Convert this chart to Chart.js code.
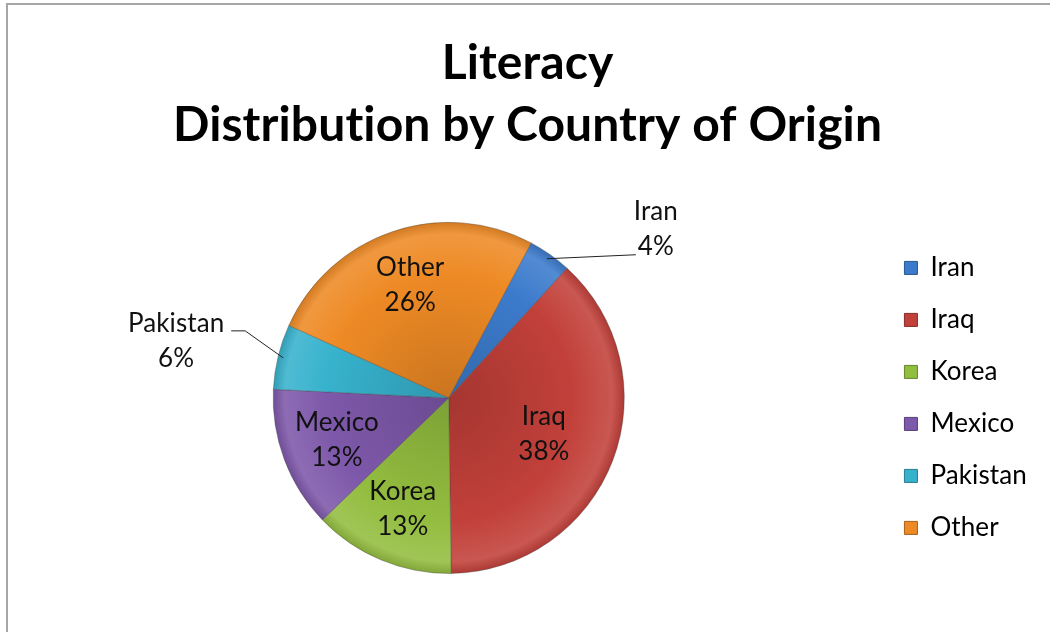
<!DOCTYPE html>
<html>
<head>
<meta charset="utf-8">
<script src="https://cdn.jsdelivr.net/npm/chart.js@4"></script>
<style>
  body { margin: 0; background: #fff; }
  #wrap { position: relative; width: 1050px; height: 632px; overflow: hidden; }
  #frame { position: absolute; left: 6px; top: 3px; width: 1100px; height: 700px;
           border-left: 2px solid #a6a6a6; border-top: 2px solid #a6a6a6; }
  canvas { position: absolute; left: 0; top: 0; }
</style>
</head>
<body>
<div id="wrap">
  <div id="frame"></div>
  <canvas id="pieChart" width="1050" height="632"></canvas>
</div>
<script>
// chart data
const countries = ['Iran', 'Iraq', 'Korea', 'Mexico', 'Pakistan', 'Other'];
const shares = [4, 38, 13, 13, 6, 26];
const sliceColors = ['#3c7bcc', '#c2403a', '#93bd3f', '#7e58aa', '#37b2cd', '#ee8a25'];
const titleLines = ['Literacy', 'Distribution by Country of Origin'];

const FONT = 'Lato, "Open Sans", sans-serif';

function shade(hex, amt) {
  const n = parseInt(hex.slice(1), 16);
  let r = (n >> 16) & 255, g = (n >> 8) & 255, b = n & 255;
  const f = c => Math.max(0, Math.min(255, Math.round(amt < 0 ? c * (1 + amt) : c + (255 - c) * amt)));
  return 'rgb(' + f(r) + ',' + f(g) + ',' + f(b) + ')';
}

// bevel-ish look for each slice
function sliceFill(ctx) {
  const base = sliceColors[ctx.dataIndex];
  const area = ctx.chart.chartArea;
  if (!area) return base;
  const cx = (area.left + area.right) / 2, cy = (area.top + area.bottom) / 2;
  const r = Math.min(area.right - area.left, area.bottom - area.top) / 2;
  const g = ctx.chart.ctx.createRadialGradient(cx, cy, 0, cx, cy, r);
  g.addColorStop(0, shade(base, -0.15));
  g.addColorStop(0.7, base);
  g.addColorStop(0.93, shade(base, 0.12));
  g.addColorStop(1, shade(base, -0.12));
  return g;
}

// a tiny letter spacing stops Lato from drawing the "ti" ligature
const noLigatures = {
  id: 'noLigatures',
  beforeDraw(chart) {
    chart.ctx.letterSpacing = '0.1px';
  }
};

// labels inside the slices, plus two outside with leader lines
const labelPlugin = {
  id: 'sliceLabels',
  afterDatasetsDraw(chart, args, opts) {
    const c = chart.ctx;
    const meta = chart.getDatasetMeta(0);
    const total = shares.reduce((a, b) => a + b, 0);
    c.save();
    c.font = '26px ' + FONT;
    c.fillStyle = '#111';
    c.textAlign = 'center';
    c.textBaseline = 'middle';
    meta.data.forEach((arc, i) => {
      const p = arc.getProps(['x', 'y', 'startAngle', 'endAngle', 'outerRadius'], true);
      const mid = (p.startAngle + p.endAngle) / 2;
      const pct = Math.round(shares[i] / total * 100) + '%';
      const out = opts.outside[i];
      let lx, ly;
      if (out) {
        const ax = p.x + Math.cos(mid) * p.outerRadius * 0.97;
        const ay = p.y + Math.sin(mid) * p.outerRadius * 0.97;
        lx = ax + out.dx;
        ly = ay + out.dy;
        c.strokeStyle = '#222';
        c.lineWidth = 1;
        c.beginPath();
        c.moveTo(ax, ay);
        out.leader.forEach(pt => c.lineTo(lx + pt[0], ly + pt[1]));
        c.stroke();
      } else {
        const f = opts.radius[i] || 0.68;
        lx = p.x + Math.cos(mid) * p.outerRadius * f;
        ly = p.y + Math.sin(mid) * p.outerRadius * f;
      }
      c.fillText(countries[i], lx, ly - 17);
      c.fillText(pct, lx, ly + 18);
    });
    c.restore();
  }
};

const pieChart = new Chart(document.getElementById('pieChart'), {
  type: 'pie',
  data: {
    labels: countries,
    datasets: [{
      data: shares,
      backgroundColor: sliceFill,
      borderColor: 'rgba(60,60,60,0.35)',
      borderWidth: 1
    }]
  },
  options: {
    responsive: false,
    animation: false,
    rotation: 28,
    layout: { padding: { left: 19, right: 14, top: 0, bottom: 58 } },
    plugins: {
      title: {
        display: true,
        text: titleLines,
        color: '#000',
        font: { family: FONT, size: 48, weight: 'bold', lineHeight: 1.29 },
        padding: { top: 33, bottom: 65 }
      },
      legend: {
        position: 'right',
        align: 'center',
        fullSize: false,
        labels: {
          boxWidth: 13,
          boxHeight: 13,
          padding: 26,
          color: '#111',
          font: { family: FONT, size: 26 },
          generateLabels(chart) {
            return countries.map((name, i) => ({
              text: name,
              fillStyle: sliceColors[i],
              strokeStyle: shade(sliceColors[i], -0.3),
              lineWidth: 1,
              index: i
            }));
          }
        }
      },
      tooltip: { enabled: false },
      sliceLabels: {
        radius: { 1: 0.58 },
        outside: {
          0: { dx: 109, dy: -30, leader: [[-20, 26]] },
          4: { dx: -107, dy: -17, leader: [[69, -10], [55, -10]] }
        }
      }
    }
  },
  plugins: [noLigatures, labelPlugin]
});
</script>
</body>
</html>
